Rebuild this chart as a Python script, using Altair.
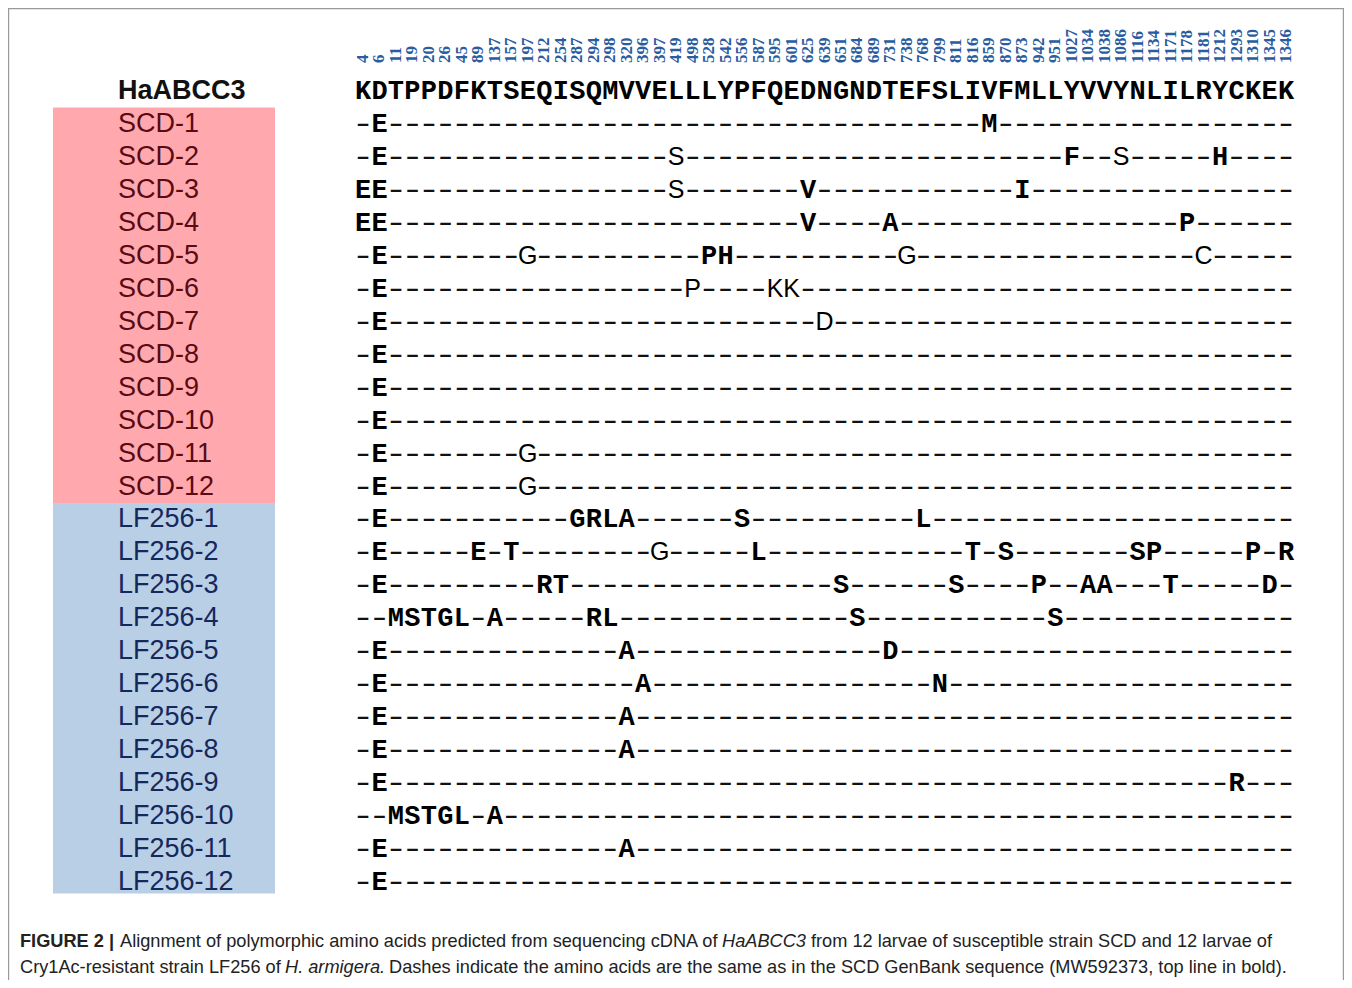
import altair as alt
import pandas as pd

# ---------------- data ----------------
positions = [4, 6, 11, 19, 20, 26, 45, 89, 137, 157, 197, 212, 254, 287, 294, 298,
             320, 396, 397, 419, 498, 528, 542, 556, 587, 595, 601, 625, 639, 651,
             684, 689, 731, 738, 768, 799, 811, 816, 859, 870, 873, 942, 951, 1027,
             1034, 1038, 1086, 1116, 1134, 1171, 1178, 1181, 1212, 1293, 1310, 1345, 1346]

reference_name = "HaABCC3"
reference_seq = "KDTPPDFKTSEQISQMVVELLLYPFQEDNGNDTEFSLIVFMLLYVVYNLILRYCKEK"

scd_labels = ["SCD-%d" % i for i in range(1, 13)]
lf_labels = ["LF256-%d" % i for i in range(1, 13)]

# substitutions per larva: (column index in the alignment, amino acid)
scd_variants = [
    [(1, "E"), (38, "M")],
    [(1, "E"), (19, "S"), (43, "F"), (46, "S"), (52, "H")],
    [(0, "E"), (1, "E"), (19, "S"), (27, "V"), (40, "I")],
    [(0, "E"), (1, "E"), (27, "V"), (32, "A"), (50, "P")],
    [(1, "E"), (10, "G"), (21, "P"), (22, "H"), (33, "G"), (51, "C")],
    [(1, "E"), (20, "P"), (25, "K"), (26, "K")],
    [(1, "E"), (28, "D")],
    [(1, "E")],
    [(1, "E")],
    [(1, "E")],
    [(1, "E"), (10, "G")],
    [(1, "E"), (10, "G")],
]
lf_variants = [
    [(1, "E"), (13, "G"), (14, "R"), (15, "L"), (16, "A"), (23, "S"), (34, "L")],
    [(1, "E"), (7, "E"), (9, "T"), (18, "G"), (24, "L"), (37, "T"), (39, "S"),
     (47, "S"), (48, "P"), (54, "P"), (56, "R")],
    [(1, "E"), (11, "R"), (12, "T"), (29, "S"), (36, "S"), (41, "P"), (44, "A"),
     (45, "A"), (49, "T"), (55, "D")],
    [(2, "M"), (3, "S"), (4, "T"), (5, "G"), (6, "L"), (8, "A"), (14, "R"), (15, "L"),
     (30, "S"), (42, "S")],
    [(1, "E"), (16, "A"), (32, "D")],
    [(1, "E"), (17, "A"), (35, "N")],
    [(1, "E"), (16, "A")],
    [(1, "E"), (16, "A")],
    [(1, "E"), (53, "R")],
    [(2, "M"), (3, "S"), (4, "T"), (5, "G"), (6, "L"), (8, "A")],
    [(1, "E"), (16, "A")],
    [(1, "E")],
]
# cells that were typed in a sans-serif face in the original figure: (row, column)
sans_cells = [(2, 19), (3, 19), (5, 10), (5, 33), (5, 51), (6, 20), (6, 25), (6, 26),
              (7, 28), (11, 10), (12, 10), (2, 46), (14, 18)]

caption_1 = ["FIGURE 2 |",
             "Alignment of polymorphic amino acids predicted from sequencing cDNA of",
             "HaABCC3",
             "from 12 larvae of susceptible strain SCD and 12 larvae of"]
caption_2 = ["Cry1Ac-resistant strain LF256 of",
             "H. armigera.",
             "Dashes indicate the amino acids are the same as in the SCD GenBank sequence (MW592373, top line in bold)."]

# ---------------- tables ----------------
n_cols = len(reference_seq)
labels = scd_labels + lf_labels
variants = scd_variants + lf_variants

cell_rows = []
for r, var in enumerate(variants, start=1):
    d = dict(var)
    for c in range(n_cols):
        ch = d.get(c, "-")
        if ch == "-":
            face = "dash"
        elif (r, c) in sans_cells:
            face = "sans"
        else:
            face = "mono"
        cell_rows.append({"row": r, "col": c, "aa": ch, "face": face})
cells = pd.DataFrame(cell_rows)

ref_df = pd.DataFrame({"row": 0, "col": list(range(n_cols)), "aa": list(reference_seq)})
pos_df = pd.DataFrame({"col": list(range(n_cols)), "pos": [str(p) for p in positions]})
lab_df = pd.DataFrame({"row": list(range(1, len(labels) + 1)), "label": labels,
                       "strain": ["SCD"] * 12 + ["LF256"] * 12})
band_df = pd.DataFrame({"strain": ["SCD", "LF256"], "y0": [0.5, 12.5], "y1": [12.5, 24.35]})
name_df = pd.DataFrame({"row": [0], "label": [reference_name]})

xs = alt.Scale(domain=[0, n_cols - 1], range=[355, 1278])
ys = alt.Scale(domain=[0, 24], range=[83, 874])
X = alt.X("col:Q", scale=xs, axis=None)
Y = alt.Y("row:Q", scale=ys, axis=None)

bands = alt.Chart(band_df).mark_rect().encode(
    x=alt.value(45), x2=alt.value(267),
    y=alt.Y("y0:Q", scale=ys, axis=None), y2="y1:Q",
    fill=alt.Fill("strain:N", scale=alt.Scale(domain=["SCD", "LF256"],
                                               range=["#FFA9AE", "#B9CFE6"]), legend=None),
)

row_labels = alt.Chart(lab_df).mark_text(
    align="left", baseline="middle", font="Liberation Sans", fontSize=27
).encode(
    x=alt.value(110), y=Y, text="label:N",
    color=alt.Color("strain:N", scale=alt.Scale(domain=["SCD", "LF256"],
                                                 range=["#5A0A12", "#15285C"]), legend=None),
)

name = alt.Chart(name_df).mark_text(
    align="left", baseline="middle", font="Liberation Sans", fontSize=27,
    fontWeight="bold", color="#111"
).encode(x=alt.value(110), y=Y, text="label:N")

nums = alt.Chart(pos_df).mark_text(
    angle=270, align="left", baseline="middle", font="Liberation Serif",
    fontSize=17, fontWeight="bold", color="#2A5CA0"
).encode(x=X, y=alt.value(55), text="pos:N")

ref_text = alt.Chart(ref_df).mark_text(
    align="center", baseline="middle", font="Liberation Mono", fontSize=27,
    fontWeight="bold", color="#000"
).encode(x=X, y=Y, text="aa:N")

mono_cells = alt.Chart(cells).transform_filter("datum.face == 'mono'").mark_text(
    align="center", baseline="middle", font="Liberation Mono", fontSize=27,
    fontWeight="bold", color="#000"
).encode(x=X, y=Y, text="aa:N")

sans_cells_layer = alt.Chart(cells).transform_filter("datum.face == 'sans'").mark_text(
    align="center", baseline="middle", font="Liberation Sans", fontSize=25,
    color="#000"
).encode(x=X, y=Y, text="aa:N")

# identical residues: drawn as long typewriter-style dashes
dash_cells = alt.Chart(cells).transform_filter("datum.face == 'dash'").transform_calculate(
    glyph="'\u2013'"
).mark_text(
    align="center", baseline="middle", font="DejaVu Sans Mono", fontSize=17.5,
    fontWeight="bold", color="#111", dy=1
).encode(x=X, y=Y, text="glyph:N")


def cap(text, x, y, weight="normal", style="normal"):
    return alt.Chart(pd.DataFrame({"t": [text]})).mark_text(
        align="left", baseline="middle", font="Liberation Sans", fontSize=18.2,
        fontWeight=weight, fontStyle=style, color="#222"
    ).encode(x=alt.value(x), y=alt.value(y), text="t:N")


cap_layers = [
    cap(caption_1[0], 12, 934, weight="bold"),
    cap(caption_1[1], 112, 934),
    cap(caption_1[2], 714, 934, style="italic"),
    cap(caption_1[3], 803, 934),
    cap(caption_2[0], 12, 960),
    cap(caption_2[1], 277, 960, style="italic"),
    cap(caption_2[2], 381, 960),
]

frame_left = alt.Chart(pd.DataFrame({"k": [0]})).mark_rule(color="#9A9A9A", strokeWidth=1.2).encode(
    x=alt.value(0.6), y=alt.value(0), y2=alt.value(972))
frame_top = alt.Chart(pd.DataFrame({"k": [0]})).mark_rule(color="#9A9A9A", strokeWidth=1.2).encode(
    x=alt.value(0), x2=alt.value(1336), y=alt.value(0.6))
frame_right = alt.Chart(pd.DataFrame({"k": [0]})).mark_rule(color="#9A9A9A", strokeWidth=1.2).encode(
    x=alt.value(1335.4), y=alt.value(0), y2=alt.value(972))

chart = alt.layer(
    frame_left, frame_top, frame_right,
    bands, row_labels, name, nums, ref_text, dash_cells, mono_cells, sans_cells_layer,
    *cap_layers
).resolve_scale(color="independent", fill="independent").properties(
    width=1336, height=972,
    autosize=alt.AutoSizeParams(type="none"),
    padding=0,
).configure_view(stroke=None)

chart.save("out.html", embed_options={"renderer": "svg", "actions": False})
